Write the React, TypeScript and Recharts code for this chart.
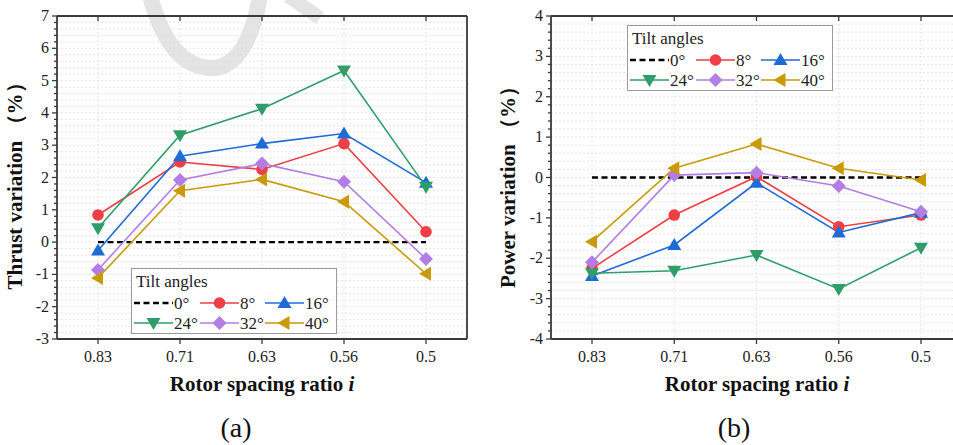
import { LineChart, Line, XAxis, YAxis, CartesianGrid } from 'recharts';

// rotor spacing ratio categories
const ratios = ['0.83', '0.71', '0.63', '0.56', '0.5'];
const tiltLabels = ['0°', '8°', '16°', '24°', '32°', '40°'];

// (a) thrust variation, %
const thrust0 = [0, 0, 0, 0, 0];
const thrust8 = [0.84, 2.48, 2.25, 3.05, 0.32];
const thrust16 = [-0.26, 2.66, 3.05, 3.36, 1.84];
const thrust24 = [0.43, 3.31, 4.13, 5.31, 1.71];
const thrust32 = [-0.86, 1.92, 2.43, 1.87, -0.52];
const thrust40 = [-1.11, 1.59, 1.94, 1.25, -0.98];

// (b) power variation, %
const power0 = [0, 0, 0, 0, 0];
const power8 = [-2.25, -0.93, 0.02, -1.22, -0.93];
const power16 = [-2.44, -1.67, -0.13, -1.36, -0.87];
const power24 = [-2.37, -2.31, -1.92, -2.76, -1.74];
const power32 = [-2.1, 0.06, 0.12, -0.21, -0.85];
const power40 = [-1.59, 0.23, 0.83, 0.23, -0.06];

const FONT = 'Liberation Serif, Times New Roman, serif';
const AXIS = '#3a3a3a';

const styles = [
  { key: 't0', color: '#000000', shape: 'none' },
  { key: 't8', color: '#ef3e45', shape: 'circle' },
  { key: 't16', color: '#1f6bd6', shape: 'up' },
  { key: 't24', color: '#2f9d6a', shape: 'down' },
  { key: 't32', color: '#b27de4', shape: 'diamond' },
  { key: 't40', color: '#c99a08', shape: 'left' },
];

const minorTicks = (lo: number, hi: number) => {
  const out: number[] = [];
  for (let k = Math.round(lo * 5); k <= Math.round(hi * 5); k++) out.push(Math.round(k * 20) / 100);
  return out;
};

const isMajor = (v: number) => Math.abs(v - Math.round(v)) < 1e-6;

const Marker = ({ cx, cy, shape, color }: any) => {
  if (cx == null || cy == null) return null;
  const s = 7;
  if (shape === 'circle') return <circle cx={cx} cy={cy} r={5.8} fill={color} />;
  let pts = '';
  if (shape === 'up') pts = `${cx},${cy - s} ${cx + s},${cy + 5} ${cx - s},${cy + 5}`;
  if (shape === 'down') pts = `${cx},${cy + s} ${cx + s},${cy - 5} ${cx - s},${cy - 5}`;
  if (shape === 'diamond') pts = `${cx},${cy - s} ${cx + s},${cy} ${cx},${cy + s} ${cx - s},${cy}`;
  if (shape === 'left') pts = `${cx - s},${cy} ${cx + 5},${cy - s} ${cx + 5},${cy + s}`;
  return <polygon points={pts} fill={color} />;
};

const LeftTick = ({ x, y, payload }: any) => {
  const v = payload.value;
  const major = isMajor(v);
  return (
    <g>
      <line x1={x - (major ? 5 : 3)} x2={x} y1={y} y2={y} stroke={AXIS} strokeWidth={1.3} />
      {major && (
        <text x={x - 8} y={y} dy={5} textAnchor="end" fontFamily={FONT} fontSize={16} fill="#222">
          {Math.round(v)}
        </text>
      )}
    </g>
  );
};

const RightTick = ({ x, y, payload }: any) => {
  const major = isMajor(payload.value);
  return <line x1={x - (major ? 5 : 3)} x2={x} y1={y} y2={y} stroke={AXIS} strokeWidth={1.3} />;
};

const BottomTick = ({ x, y, payload }: any) => (
  <g>
    <line x1={x} x2={x} y1={y} y2={y + 5} stroke={AXIS} strokeWidth={1.3} />
    <text x={x} y={y + 23} textAnchor="middle" fontFamily={FONT} fontSize={16} fill="#222">
      {payload.value}
    </text>
  </g>
);

const TopTick = ({ x, y }: any) => <line x1={x} x2={x} y1={y} y2={y + 5} stroke={AXIS} strokeWidth={1.3} />;

const Legend = ({ left, top }: { left: number; top: number }) => {
  const cols = [2, 68, 133];
  return (
    <svg
      width={206}
      height={66}
      style={{ position: 'absolute', left, top, background: '#fff', border: '1px solid #9a9a9a', boxSizing: 'border-box' }}
    >
      <text x={4} y={18} fontFamily={FONT} fontSize={17} fill="#222">
        Tilt angles
      </text>
      {styles.map((s, i) => {
        const x0 = cols[i % 3];
        const cy = i < 3 ? 34 : 54;
        return (
          <g key={s.key}>
            <line
              x1={x0}
              x2={x0 + 39}
              y1={cy}
              y2={cy}
              stroke={s.color}
              strokeWidth={s.shape === 'none' ? 2.4 : 1.6}
              strokeDasharray={s.shape === 'none' ? '6 3.5' : undefined}
            />
            <Marker cx={x0 + 19.5} cy={cy} shape={s.shape} color={s.color} />
            <text x={x0 + 40} y={cy + 6} fontFamily={FONT} fontSize={17} fill="#222">
              {tiltLabels[i]}
            </text>
          </g>
        );
      })}
    </svg>
  );
};

type PanelProps = {
  left: number;
  width: number;
  marginLeft: number;
  marginRight: number;
  pad: number;
  domain: [number, number];
  series: number[][];
};

const Panel = ({ left, width, marginLeft, marginRight, pad, domain, series }: PanelProps) => {
  const data = ratios.map((r, i) => {
    const row: Record<string, string | number> = { ratio: r };
    styles.forEach((s, k) => (row[s.key] = series[k][i]));
    return row;
  });
  const ticks = minorTicks(domain[0], domain[1]);
  return (
    <div style={{ position: 'absolute', left, top: 0 }}>
      <LineChart
        width={width}
        height={445}
        data={data}
        margin={{ top: 15, right: marginRight, bottom: 105, left: marginLeft }}
      >
        <CartesianGrid stroke="#dedede" strokeDasharray="2 2" strokeWidth={0.8} />
        <XAxis
          dataKey="ratio"
          height={1}
          padding={{ left: pad, right: pad }}
          tickSize={0}
          tickMargin={0}
          tick={<BottomTick />}
          interval={0}
          axisLine={{ stroke: AXIS, strokeWidth: 1.8 }}
          tickLine={false}
        />
        <XAxis
          xAxisId="top"
          dataKey="ratio"
          orientation="top"
          height={1}
          padding={{ left: pad, right: pad }}
          tickSize={0}
          tickMargin={0}
          tick={<TopTick />}
          interval={0}
          axisLine={{ stroke: AXIS, strokeWidth: 1.8 }}
          tickLine={false}
        />
        <YAxis
          type="number"
          domain={domain}
          ticks={ticks}
          interval={0}
          width={1}
          tickSize={0}
          tickMargin={0}
          tick={<LeftTick />}
          axisLine={{ stroke: AXIS, strokeWidth: 1.8 }}
          tickLine={false}
        />
        <YAxis
          yAxisId="right"
          orientation="right"
          type="number"
          domain={domain}
          ticks={ticks}
          interval={0}
          width={1}
          tickSize={0}
          tickMargin={0}
          tick={<RightTick />}
          axisLine={{ stroke: AXIS, strokeWidth: 1.8 }}
          tickLine={false}
        />
        {styles.map((s) =>
          s.shape === 'none' ? (
            <Line
              key={s.key}
              dataKey={s.key}
              type="linear"
              stroke="#000"
              strokeWidth={2.4}
              strokeDasharray="6 3.5"
              dot={false}
              activeDot={false}
              isAnimationActive={false}
            />
          ) : (
            <Line
              key={s.key}
              dataKey={s.key}
              type="linear"
              stroke={s.color}
              strokeWidth={1.6}
              dot={(p: any) => <Marker key={`${s.key}-${p.index}`} cx={p.cx} cy={p.cy} shape={s.shape} color={s.color} />}
              activeDot={false}
              isAnimationActive={false}
            />
          )
        )}
      </LineChart>
    </div>
  );
};

export default function App() {
  return (
    <div
      style={{
        position: 'absolute',
        left: 0,
        top: 0,
        width: 953,
        height: 445,
        overflow: 'hidden',
        background: '#fff',
      }}
    >
      <svg width={953} height={445} style={{ position: 'absolute', left: 0, top: 0 }}>
        <path d="M150,-4 Q170,70 215,68 Q248,64 260,-4" fill="none" stroke="#e4e4e4" strokeWidth={16} />
        <path d="M288,-4 L320,18" fill="none" stroke="#e4e4e4" strokeWidth={14} />
        <text
          transform="translate(22,181) rotate(-90)"
          textAnchor="middle"
          fontFamily={FONT}
          fontWeight="bold"
          fontSize={21}
          fill="#111"
        >
          Thrust variation （%）
        </text>
        <text
          transform="translate(515,182) rotate(-90)"
          textAnchor="middle"
          fontFamily={FONT}
          fontWeight="bold"
          fontSize={21}
          fill="#111"
        >
          Power variation （%）
        </text>
        <text x={262} y={391} textAnchor="middle" fontFamily={FONT} fontWeight="bold" fontSize={21} fill="#111">
          Rotor spacing ratio <tspan fontStyle="italic">i</tspan>
        </text>
        <text x={757} y={391} textAnchor="middle" fontFamily={FONT} fontWeight="bold" fontSize={21} fill="#111">
          Rotor spacing ratio <tspan fontStyle="italic">i</tspan>
        </text>
        <text x={236} y={437} textAnchor="middle" fontFamily={FONT} fontSize={28} fill="#111">
          (a)
        </text>
        <text x={734} y={437} textAnchor="middle" fontFamily={FONT} fontSize={28} fill="#111">
          (b)
        </text>
      </svg>
      <Panel
        left={0}
        width={480}
        marginLeft={56}
        marginRight={12}
        pad={41}
        domain={[-3, 7]}
        series={[thrust0, thrust8, thrust16, thrust24, thrust32, thrust40]}
      />
      <Panel
        left={480}
        width={490}
        marginLeft={70}
        marginRight={7}
        pad={41}
        domain={[-4, 4]}
        series={[power0, power8, power16, power24, power32, power40]}
      />
      <Legend left={131} top={268} />
      <Legend left={627} top={25} />
    </div>
  );
}
